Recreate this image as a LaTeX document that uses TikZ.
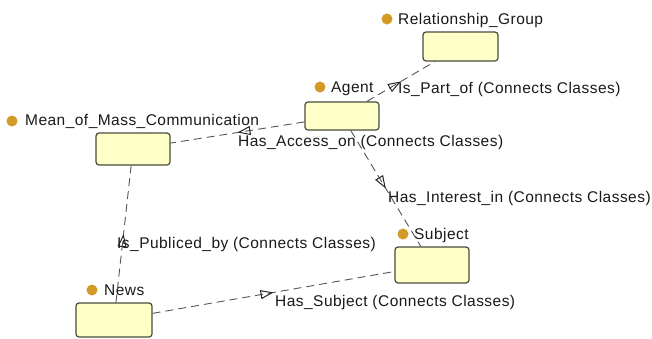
\documentclass[tikz,border=0pt]{standalone}
\usepackage{fontspec}
\setmainfont[LetterSpace=3]{Liberation Sans}
\usetikzlibrary{arrows.meta,decorations.markings}
\definecolor{boxfill}{HTML}{FFFFC8}
\definecolor{boxline}{HTML}{4A4A3A}
\definecolor{dotcol}{HTML}{D49A28}
\definecolor{edgecol}{HTML}{555555}
\tikzset{
  cls/.style={draw=boxline, fill=boxfill, rounded corners=3pt, line width=1.2pt, inner sep=0pt},
  lbl/.style={anchor=base west, inner sep=0pt, font=\fontsize{15.5}{18}\selectfont, text=black!90},
  dotmark/.style={circle, fill=dotcol, inner sep=0pt, minimum size=11pt},
  rel/.style={draw=edgecol, line width=0.9pt, dash pattern=on 8pt off 5pt,
    decoration={markings, mark=at position 0.5 with {\arrow[solid,draw=black!85,line width=1pt]{Triangle[open,length=13pt,width=9pt]}}},
    postaction={decorate}}
}
\begin{document}
\begin{tikzpicture}[x=1pt,y=-1pt]
\useasboundingbox (0,0) rectangle (652,338);
% classes
\node[cls, minimum width=75pt, minimum height=29pt] (rel) at (460.5,46.5) {};
\node[cls, minimum width=74pt, minimum height=28pt] (agent) at (342,116) {};
\node[cls, minimum width=74pt, minimum height=32pt] (mean) at (133,149) {};
\node[cls, minimum width=74pt, minimum height=36pt] (subj) at (432,265) {};
\node[cls, minimum width=76pt, minimum height=34pt] (news) at (114,320) {};
% class labels
\node[dotmark] (drel) at (387,19) {};
\node[lbl] (trel) at (398,24) {Relationship\_Group};
\node[dotmark] (dagent) at (320,87) {};
\node[lbl] (tagent) at (331,92) {Agent};
\node[dotmark] (dmean) at (12,121) {};
\node[lbl] (tmean) at (25,125) {Mean\_of\_Mass\_Communication};
\node[dotmark] (dsubj) at (403,234) {};
\node[lbl] (tsubj) at (414,239) {Subject};
\node[dotmark] (dnews) at (92,290) {};
\node[lbl] (tnews) at (104,295) {News};
% relations
\draw[rel] (agent) -- (rel);
\draw[rel] (agent) -- (mean);
\draw[rel] (agent) -- (subj);
\draw[rel] (news) -- (mean);
\draw[rel] (news) -- (subj);
% relation labels
\node[lbl] (lpart) at (398,93) {Is\_Part\_of (Connects Classes)};
\node[lbl] (lacc) at (238,146) {Has\_Access\_on (Connects Classes)};
\node[lbl] (lint) at (388,202) {Has\_Interest\_in (Connects Classes)};
\node[lbl] (lpub) at (117,248) {Is\_Publiced\_by (Connects Classes)};
\node[lbl] (lsub) at (275,306) {Has\_Subject (Connects Classes)};
\end{tikzpicture}
\end{document}
